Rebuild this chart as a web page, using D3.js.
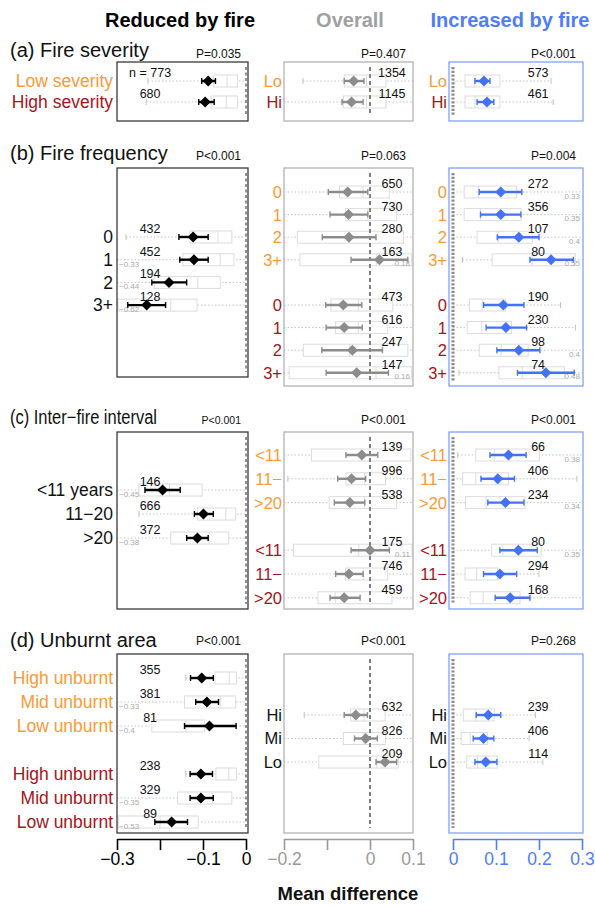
<!DOCTYPE html>
<html><head><meta charset="utf-8">
<script src="https://cdn.jsdelivr.net/npm/d3@7"></script>
<style>body{margin:0;background:#fff}svg{display:block}text{font-family:"Liberation Sans",Arial,sans-serif}</style>
</head><body><svg id="c" width="595" height="906"></svg>
<script>
// ---------------- DATA ----------------
const colTitles = ["Reduced by fire", "Overall", "Increased by fire"];
const sectionTitles = ["(a) Fire severity", "(b) Fire frequency", "(c) Inter\u2212fire interval", "(d) Unburnt area"];
const pValues = [
  ["P=0.035", "P=0.407", "P<0.001"],
  ["P<0.001", "P=0.063", "P=0.004"],
  ["P<0.001", "P<0.001", "P<0.001"],
  ["P<0.001", "P<0.001", "P=0.268"]
];
// category labels; group 0 = black, 1 = orange, 2 = dark red
const aLabelsLeft = ["Low severity", "High severity"];
const aLabelsSide = ["Lo", "Hi"];
const aGroups = [1, 2];
const bLabelsLeft = ["0", "1", "2", "3+"];
const bGroupsLeft = [0, 0, 0, 0];
const bLabelsSide = ["0", "1", "2", "3+", "0", "1", "2", "3+"];
const bGroupsSide = [1, 1, 1, 1, 2, 2, 2, 2];
const cLabelsLeft = ["<11 years", "11\u221220", ">20"];
const cGroupsLeft = [0, 0, 0];
const cLabelsSide = ["<11", "11\u2212", ">20", "<11", "11\u2212", ">20"];
const cGroupsSide = [1, 1, 1, 2, 2, 2];
const dLabelsLeft = ["High unburnt", "Mid unburnt", "Low unburnt", "High unburnt", "Mid unburnt", "Low unburnt"];
const dGroupsLeft = [1, 1, 1, 2, 2, 2];
const dLabelsSide = ["Hi", "Mi", "Lo"];
const dGroupsSide = [0, 0, 0];

// rows: [n, mean, ciLow, ciHigh, whiskerLow, q1, median, q3, whiskerHigh]
const rowsAL = [
  [773, -0.088, -0.103, -0.071, -0.228, -0.075, -0.044, -0.020, 0],
  [680, -0.095, -0.110, -0.074, -0.232, -0.081, -0.046, -0.020, 0]
];
const rowsAM = [
  [1354, -0.038, -0.060, -0.014, -0.156, -0.060, -0.008, 0.037, 0.1],
  [1145, -0.043, -0.065, -0.016, -0.2, -0.062, -0.008, 0.037, 0.1]
];
const rowsAR = [
  [573, 0.072, 0.051, 0.086, 0, 0.028, 0.051, 0.109, 0.228],
  [461, 0.079, 0.056, 0.095, 0, 0.028, 0.051, 0.109, 0.233]
];
const rowsBL = [
  [432, -0.123, -0.156, -0.088, -0.279, -0.130, -0.065, -0.033, 0],
  [452, -0.121, -0.154, -0.088, -0.33, -0.147, -0.060, -0.028, 0],
  [194, -0.179, -0.219, -0.138, -0.44, -0.214, -0.112, -0.060, 0],
  [128, -0.231, -0.275, -0.187, -0.62, -0.298, -0.175, -0.114, 0]
];
const rowsBM = [
  [650, -0.052, -0.097, -0.005, -0.2, -0.071, -0.016, 0.045, 0.1],
  [730, -0.050, -0.093, -0.005, -0.2, -0.057, -0.005, 0.062, 0.1],
  [280, -0.049, -0.111, 0.014, -0.2, -0.169, -0.047, 0.078, 0.1],
  [163, 0.022, -0.044, 0.088, -0.2, -0.163, 0.016, 0.097, 0.18],
  [473, -0.062, -0.103, -0.019, -0.2, -0.091, -0.027, 0.053, 0.1],
  [616, -0.060, -0.102, -0.018, -0.2, -0.080, -0.027, 0.041, 0.1],
  [247, -0.041, -0.112, 0.029, -0.2, -0.155, -0.047, 0.088, 0.1],
  [147, -0.031, -0.102, 0.043, -0.2, -0.188, 0.014, 0.097, 0.16]
];
const rowsBR = [
  [272, 0.111, 0.061, 0.160, 0, 0.026, 0.059, 0.148, 0.33],
  [356, 0.111, 0.064, 0.158, 0, 0.026, 0.064, 0.158, 0.35],
  [107, 0.153, 0.103, 0.200, 0, 0.056, 0.105, 0.184, 0.4],
  [80, 0.228, 0.179, 0.280, 0.022, 0.091, 0.184, 0.284, 0.55],
  [190, 0.117, 0.071, 0.165, 0, 0.038, 0.068, 0.122, 0.250],
  [230, 0.123, 0.077, 0.171, 0, 0.033, 0.067, 0.136, 0.285],
  [98, 0.153, 0.102, 0.202, 0, 0.061, 0.112, 0.175, 0.4],
  [74, 0.216, 0.150, 0.282, 0.014, 0.107, 0.161, 0.259, 0.48]
];
const rowsCL = [
  [146, -0.194, -0.235, -0.153, -0.45, -0.249, -0.178, -0.102, 0],
  [666, -0.099, -0.120, -0.076, -0.249, -0.113, -0.047, -0.024, 0],
  [372, -0.113, -0.138, -0.088, -0.38, -0.175, -0.086, -0.040, 0]
];
const rowsCM = [
  [139, -0.019, -0.056, 0.018, -0.2, -0.136, -0.020, 0.095, 0.1],
  [996, -0.043, -0.075, -0.010, -0.191, -0.056, -0.013, 0.036, 0.1],
  [538, -0.047, -0.083, -0.012, -0.2, -0.095, -0.013, 0.062, 0.1],
  [175, 0.000, -0.044, 0.045, -0.2, -0.178, -0.026, 0.098, 0.11],
  [746, -0.049, -0.080, -0.016, -0.2, -0.057, -0.016, 0.041, 0.1],
  [459, -0.060, -0.093, -0.023, -0.2, -0.121, -0.081, 0.051, 0.1]
];
const rowsCR = [
  [66, 0.129, 0.086, 0.170, 0.011, 0.053, 0.096, 0.201, 0.38],
  [406, 0.104, 0.065, 0.143, 0, 0.022, 0.053, 0.129, 0.288],
  [234, 0.122, 0.081, 0.165, 0, 0.029, 0.077, 0.167, 0.34],
  [80, 0.152, 0.109, 0.196, 0, 0.090, 0.116, 0.205, 0.35],
  [294, 0.109, 0.071, 0.148, 0, 0.028, 0.055, 0.104, 0.200],
  [168, 0.133, 0.098, 0.179, 0, 0.040, 0.070, 0.156, 0.3]
];
const rowsDL = [
  [355, -0.103, -0.129, -0.076, -0.140, -0.072, -0.039, -0.022, 0],
  [381, -0.091, -0.117, -0.064, -0.33, -0.143, -0.060, -0.024, 0],
  [81, -0.085, -0.143, -0.023, -0.4, -0.219, -0.140, -0.097, 0],
  [238, -0.105, -0.130, -0.078, -0.140, -0.070, -0.040, -0.022, 0],
  [329, -0.105, -0.130, -0.076, -0.35, -0.159, -0.078, -0.033, 0],
  [89, -0.173, -0.212, -0.136, -0.53, -0.297, -0.200, -0.111, 0]
];
const rowsDM = [
  [632, -0.033, -0.060, -0.006, -0.153, -0.045, -0.014, 0.035, 0.1],
  [826, -0.010, -0.036, 0.017, -0.2, -0.062, -0.014, 0.036, 0.1],
  [209, 0.035, 0.014, 0.062, -0.2, -0.119, 0.016, 0.066, 0.1]
];
const rowsDR = [
  [239, 0.082, 0.054, 0.111, 0, 0.024, 0.053, 0.096, 0.192],
  [406, 0.071, 0.047, 0.095, 0, 0.019, 0.040, 0.080, 0.177],
  [114, 0.076, 0.051, 0.102, 0, 0.032, 0.057, 0.103, 0.209]
];
// axis ticks
const axisDomains = [[-0.3, 0], [-0.2, 0.1], [0, 0.3]];
const axisTicks = [[-0.3, -0.2, -0.1, 0], [-0.2, -0.1, 0, 0.1], [0, 0.1, 0.2, 0.3]];
const axisTickLabels = [["\u22120.3", "", "\u22120.1", "0"], ["\u22120.2", "", "0", "0.1"], ["0", "0.1", "0.2", "0.3"]];
const xAxisTitle = "Mean difference";

// ---------------- LAYOUT / STYLE ----------------
const svg = d3.select("#c");
const X = [
  d3.scaleLinear().domain(axisDomains[0]).range([117, 246]),
  d3.scaleLinear().domain(axisDomains[1]).range([284, 413]),
  d3.scaleLinear().domain(axisDomains[2]).range([453, 582])
];
const frameX = [[117, 248], [284, 413], [449, 583]];
const groupColor = ["#111111", "#F99A3A", "#A3151B"];
const colStyle = [
  {frame: "#3a3a3a", mark: "#000000", zero: "#777", zeroW: 1.6, zeroDash: "3,2.5", axis: "#000", title: "#000", nX: -0.223, labelX: 113, labelSize: 17.5},
  {frame: "#b3b3b3", mark: "#8c8c8c", zero: "#808080", zeroW: 2, zeroDash: "4,3", axis: "#9a9a9a", title: "#a0a0a0", nX: 0.051, labelX: 282, labelSize: 16.5},
  {frame: "#82a2f6", mark: "#4372F7", zero: "#8a8a8a", zeroW: 3, zeroDash: "2.2,1.6", axis: "#4f7df5", title: "#4f7df5", nX: 0.198, labelX: 447, labelSize: 16.5}
];
const sections = [
  {top: 62, bottom: [121, 121, 121], base: 57, pBase: 58,
   rows: [{y0: 81, step: 21}, {y0: 81, step: 21}, {y0: 81, step: 21}]},
  {top: 168, bottom: [377, 386, 386], base: 160, pBase: 160,
   rows: [{y0: 237, step: 22.7}, {y0: 192, step: 22.6, gap: 4}, {y0: 192, step: 22.6, gap: 4}]},
  {top: 432, bottom: [609, 609, 609], base: 424, pBase: 424,
   rows: [{y0: 490, step: 24}, {y0: 455, step: 23.8, gap: 3}, {y0: 455, step: 23.8, gap: 3}]},
  {top: 654, bottom: [833, 833, 833], base: 647, pBase: 645,
   rows: [{y0: 678, step: 24, gap: 3}, {y0: 715, step: 23.5}, {y0: 715, step: 23.5}]}
];
const panels = [
  {s: 0, c: 0, labels: aLabelsLeft, groups: aGroups, rows: rowsAL},
  {s: 0, c: 1, labels: aLabelsSide, groups: aGroups, rows: rowsAM},
  {s: 0, c: 2, labels: aLabelsSide, groups: aGroups, rows: rowsAR},
  {s: 1, c: 0, labels: bLabelsLeft, groups: bGroupsLeft, rows: rowsBL},
  {s: 1, c: 1, labels: bLabelsSide, groups: bGroupsSide, rows: rowsBM},
  {s: 1, c: 2, labels: bLabelsSide, groups: bGroupsSide, rows: rowsBR},
  {s: 2, c: 0, labels: cLabelsLeft, groups: cGroupsLeft, rows: rowsCL},
  {s: 2, c: 1, labels: cLabelsSide, groups: cGroupsSide, rows: rowsCM},
  {s: 2, c: 2, labels: cLabelsSide, groups: cGroupsSide, rows: rowsCR},
  {s: 3, c: 0, labels: dLabelsLeft, groups: dGroupsLeft, rows: rowsDL},
  {s: 3, c: 1, labels: dLabelsSide, groups: dGroupsSide, rows: rowsDM},
  {s: 3, c: 2, labels: dLabelsSide, groups: dGroupsSide, rows: rowsDR}
];

// column titles
const titleX = [180, 350, 510];
colTitles.forEach((t, i) => {
  svg.append("text").attr("x", titleX[i]).attr("y", 27).attr("text-anchor", "middle")
    .attr("font-size", 20).attr("font-weight", "bold").attr("fill", colStyle[i].title).text(t);
});
// section titles and P values
sections.forEach((s, si) => {
  const t = svg.append("text").attr("x", 10).attr("y", s.base).attr("font-size", 20).attr("fill", "#111").text(sectionTitles[si]);
  if (si === 2) t.attr("textLength", 147).attr("lengthAdjust", "spacingAndGlyphs");
  pValues[si].forEach((p, ci) => {
    svg.append("text").attr("x", frameX[ci][1] - 7).attr("y", s.pBase).attr("text-anchor", "end")
      .attr("font-size", (si === 2 && ci === 0) ? 10.5 : 12).attr("fill", "#111").text(p);
  });
});

const fmtOut = v => String(+v.toFixed(2)).replace("-", "\u2212");

panels.forEach(p => {
  const sec = sections[p.s], st = colStyle[p.c], x = X[p.c];
  const yl = sec.rows[p.c];
  const yOf = i => yl.y0 + yl.step * (i + (yl.gap != null && i >= yl.gap ? 1 : 0));
  const top = sec.top, bot = sec.bottom[p.c];
  const [fx0, fx1] = frameX[p.c];
  const dom = x.domain();
  const inside = v => v > dom[0] + 1e-9 && v < dom[1] - 1e-9;
  const cx = v => x(Math.max(dom[0], Math.min(dom[1], v)));
  const g = svg.append("g");

  p.rows.forEach((r, i) => {
    const y = yOf(i);
    const [n, m, lo, hi, wl, q1, md, q3, wh] = r;
    g.append("line").attr("x1", cx(wl)).attr("x2", cx(wh)).attr("y1", y).attr("y2", y)
      .attr("stroke", "#c4c4c4").attr("stroke-width", 1).attr("stroke-dasharray", "1.5,2");
    [wl, wh].forEach(w => {
      if (inside(w)) g.append("line").attr("x1", x(w)).attr("x2", x(w)).attr("y1", y - 3).attr("y2", y + 3)
        .attr("stroke", "#c4c4c4").attr("stroke-width", 1);
    });
    g.append("rect").attr("x", cx(q1)).attr("y", y - 6).attr("width", cx(q3) - cx(q1)).attr("height", 12)
      .attr("fill", "#fff").attr("stroke", "#dcdcdc").attr("stroke-width", 1);
    g.append("line").attr("x1", cx(md)).attr("x2", cx(md)).attr("y1", y - 6).attr("y2", y + 6)
      .attr("stroke", "#dcdcdc").attr("stroke-width", 1);
  });

  g.append("line").attr("x1", x(0)).attr("x2", x(0)).attr("y1", top + 5).attr("y2", bot - 5)
    .attr("stroke", st.zero).attr("stroke-width", st.zeroW).attr("stroke-dasharray", st.zeroDash);

  p.rows.forEach((r, i) => {
    const y = yOf(i);
    const [n, m, lo, hi, wl, q1, md, q3, wh] = r;
    g.append("line").attr("x1", x(lo)).attr("x2", x(hi)).attr("y1", y).attr("y2", y)
      .attr("stroke", st.mark).attr("stroke-width", 2.4);
    [lo, hi].forEach(v => g.append("line").attr("x1", x(v)).attr("x2", x(v)).attr("y1", y - 3).attr("y2", y + 3)
      .attr("stroke", st.mark).attr("stroke-width", 1.4));
    const mx = x(m);
    g.append("path").attr("d", `M${mx - 5.5},${y}L${mx},${y - 5.5}L${mx + 5.5},${y}L${mx},${y + 5.5}Z`)
      .attr("fill", st.mark);
    const nt = (p.s === 0 && p.c === 0 && i === 0) ? "n = " + n : String(n);
    g.append("text").attr("x", x(st.nX)).attr("y", y - 4).attr("text-anchor", "middle")
      .attr("font-size", 12.5).attr("fill", "#111").text(nt);
    if (wl < dom[0] - 1e-9) {
      g.append("text").attr("x", fx0 + 2).attr("y", y + 7).attr("font-size", 8).attr("fill", "#aaa").text(fmtOut(wl));
    }
    if (wh > dom[1] + 1e-9) {
      g.append("text").attr("x", fx1 - 3).attr("y", y + 6.5).attr("text-anchor", "end").attr("font-size", 8).attr("fill", "#aaa").text(fmtOut(wh));
    }
    g.append("text").attr("x", st.labelX).attr("y", y).attr("dy", "0.36em").attr("text-anchor", "end")
      .attr("font-size", st.labelSize).attr("fill", groupColor[p.groups[i]]).text(p.labels[i]);
  });

  g.append("rect").attr("x", fx0).attr("y", top).attr("width", fx1 - fx0).attr("height", bot - top)
    .attr("fill", "none").attr("stroke", st.frame).attr("stroke-width", 1.3);
});

// bottom axes
X.forEach((x, ci) => {
  const labs = axisTickLabels[ci];
  const ax = d3.axisBottom(x).tickValues(axisTicks[ci]).tickSize(11).tickSizeOuter(0)
    .tickFormat((d, i) => labs[i]);
  const g = svg.append("g").attr("transform", "translate(0,839)").call(ax);
  g.select(".domain").attr("stroke", colStyle[ci].axis).attr("stroke-width", 1.6);
  g.selectAll(".tick line").attr("stroke", colStyle[ci].axis).attr("stroke-width", 1.6);
  g.selectAll(".tick text").attr("fill", colStyle[ci].axis).attr("font-size", 17.5)
    .attr("font-family", "'Liberation Sans', Arial, sans-serif");
});
svg.append("text").attr("x", 348).attr("y", 900).attr("text-anchor", "middle").attr("font-size", 18.5)
  .attr("font-weight", "bold").attr("fill", "#111").text(xAxisTitle);
</script>
</body></html>
